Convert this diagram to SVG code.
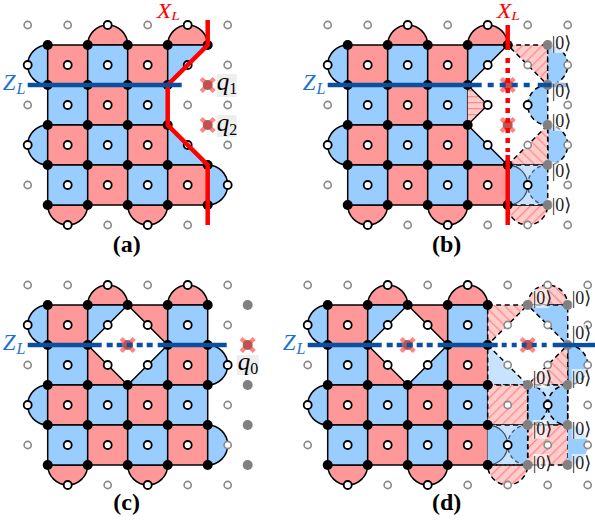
<svg xmlns="http://www.w3.org/2000/svg" width="595" height="521" viewBox="0 0 595 521">
<style>
.r{fill:#ff9999;stroke:#000;stroke-width:1.5}
.b{fill:#99ccff;stroke:#000;stroke-width:1.5}
.lb{fill:#c8e3ff;stroke:none}
.bd{fill:#99ccff;stroke:#000;stroke-width:1.5;stroke-dasharray:5 3.5}
.bn{fill:#99ccff;stroke:none}
.hs{fill:url(#hs);stroke:#000;stroke-width:1.5;stroke-dasharray:5 3.5}
.hb{fill:url(#hb);stroke:#000;stroke-width:1.5;stroke-dasharray:5 3.5}
.hh{fill:url(#hh);stroke:none}
.dl{fill:none;stroke:#000;stroke-width:1.5;stroke-dasharray:5 3.5}
.za{fill:none;stroke:#0b4f9e;stroke-width:4.5}
.xa{fill:none;stroke:#ff0000;stroke-width:4.5}
.t{font-family:"Liberation Serif",serif;font-size:23px;font-style:italic}
.tx{font-family:"Liberation Serif",serif;font-size:20px;font-style:italic}
.q{font-family:"Liberation Serif",serif;font-size:25px;font-style:italic}
.xl{fill:#ff0000}
.zl{fill:#1c72d4}
.s{font-size:16px}
.sx{font-size:13px}
.ket{font-family:"Liberation Serif","DejaVu Serif",serif;font-size:18px;fill:#222}
.kb{fill:#fff;opacity:.6}
.cap{font-family:"Liberation Serif",serif;font-size:24px;font-weight:bold;text-anchor:middle}
.qb{fill:#eeeeee}
</style>
<defs>
<pattern id="hs" width="7" height="7" patternUnits="userSpaceOnUse" patternTransform="rotate(45)"><rect width="7" height="7" fill="#ffcccc"/><rect width="1.3" height="7" fill="#ff8a8a"/></pattern>
<pattern id="hb" width="7" height="7" patternUnits="userSpaceOnUse" patternTransform="rotate(-45)"><rect width="7" height="7" fill="#ffcccc"/><rect width="1.3" height="7" fill="#ff8a8a"/></pattern>
<pattern id="hh" width="6" height="6" patternUnits="userSpaceOnUse"><rect width="6" height="6" fill="#ffcccc"/><rect width="6" height="1.3" fill="#ff8a8a"/></pattern>
<circle id="o" r="4" fill="#fff" stroke="#000" stroke-width="1.8"/>
<circle id="g" r="3.6" fill="#fff" stroke="#888" stroke-width="1.6"/>
<circle id="k" r="5" fill="#000"/>
<circle id="d" r="5" fill="#808080"/>
<g id="x"><circle r="5" fill="#777"/><path d="M-6.5-6.5L6.5 6.5M-6.5 6.5L6.5-6.5" stroke="#ff3333" stroke-opacity=".6" stroke-width="4.5" fill="none"/></g>
<g id="ket"><rect class="kb" x="0" y="-9" width="16" height="19"/><text class="ket" x="0" y="5.500">|0⟩</text></g>
<g id="baseAB">
<path class="r" d="M88 45A20 20 0 0 1 128 45Z"/><path class="r" d="M168 45A20 20 0 0 1 208 45Z"/>
<path class="b" d="M48 45A20 20 0 0 0 48 85Z"/><path class="b" d="M48 125A20 20 0 0 0 48 165Z"/>
<path class="r" d="M48 205A20 20 0 0 0 88 205Z"/><path class="r" d="M128 205A20 20 0 0 0 168 205Z"/>
<rect class="r" x="48" y="45" width="40" height="40"/><rect class="b" x="88" y="45" width="40" height="40"/><rect class="r" x="128" y="45" width="40" height="40"/>
<path class="b" d="M168 45H208L168 85Z"/>
<rect class="b" x="48" y="85" width="40" height="40"/><rect class="r" x="88" y="85" width="40" height="40"/><rect class="b" x="128" y="85" width="40" height="40"/>
<rect class="r" x="48" y="125" width="40" height="40"/><rect class="b" x="88" y="125" width="40" height="40"/><rect class="r" x="128" y="125" width="40" height="40"/>
<path class="b" d="M168 125V165H208Z"/>
<rect class="b" x="48" y="165" width="40" height="40"/><rect class="r" x="88" y="165" width="40" height="40"/><rect class="b" x="128" y="165" width="40" height="40"/><rect class="r" x="168" y="165" width="40" height="40"/>
</g>
<g id="baseABo">
<use href="#k" x="48" y="45"/><use href="#k" x="88" y="45"/><use href="#k" x="128" y="45"/><use href="#k" x="168" y="45"/><use href="#k" x="208" y="45"/>
<use href="#k" x="48" y="85"/><use href="#k" x="88" y="85"/><use href="#k" x="128" y="85"/><use href="#k" x="168" y="85"/>
<use href="#k" x="48" y="125"/><use href="#k" x="88" y="125"/><use href="#k" x="128" y="125"/><use href="#k" x="168" y="125"/>
<use href="#k" x="48" y="165"/><use href="#k" x="88" y="165"/><use href="#k" x="128" y="165"/><use href="#k" x="168" y="165"/><use href="#k" x="208" y="165"/>
<use href="#k" x="48" y="205"/><use href="#k" x="88" y="205"/><use href="#k" x="128" y="205"/><use href="#k" x="168" y="205"/><use href="#k" x="208" y="205"/>
<use href="#o" x="108" y="25"/><use href="#o" x="188" y="25"/><use href="#o" x="28" y="65"/><use href="#o" x="68" y="65"/><use href="#o" x="108" y="65"/><use href="#o" x="148" y="65"/><use href="#o" x="188" y="65"/>
<use href="#o" x="68" y="105"/><use href="#o" x="108" y="105"/><use href="#o" x="148" y="105"/>
<use href="#o" x="28" y="145"/><use href="#o" x="68" y="145"/><use href="#o" x="108" y="145"/><use href="#o" x="148" y="145"/><use href="#o" x="188" y="145"/>
<use href="#o" x="68" y="185"/><use href="#o" x="108" y="185"/><use href="#o" x="148" y="185"/><use href="#o" x="188" y="185"/>
<use href="#o" x="68" y="225"/><use href="#o" x="148" y="225"/>
<use href="#g" x="28" y="25"/><use href="#g" x="68" y="25"/><use href="#g" x="148" y="25"/><use href="#g" x="228" y="25"/>
<use href="#g" x="28" y="105"/><use href="#g" x="28" y="185"/><use href="#g" x="108" y="225"/><use href="#g" x="188" y="225"/>
</g>
<g id="baseCD">
<path class="r" d="M88 45A20 20 0 0 1 128 45Z"/><path class="r" d="M168 45A20 20 0 0 1 208 45Z"/>
<path class="b" d="M48 45A20 20 0 0 0 48 85Z"/><path class="b" d="M48 125A20 20 0 0 0 48 165Z"/>
<path class="r" d="M48 205A20 20 0 0 0 88 205Z"/><path class="r" d="M128 205A20 20 0 0 0 168 205Z"/>
<rect class="r" x="48" y="45" width="40" height="40"/>
<path class="b" d="M88 45H128L88 85Z"/><path class="r" d="M128 45H168V85Z"/>
<rect class="b" x="168" y="45" width="40" height="40"/>
<rect class="b" x="48" y="85" width="40" height="40"/>
<path class="r" d="M88 85V125H128Z"/><path class="b" d="M168 85V125H128Z"/>
<rect class="r" x="168" y="85" width="40" height="40"/>
<rect class="r" x="48" y="125" width="40" height="40"/><rect class="b" x="88" y="125" width="40" height="40"/><rect class="r" x="128" y="125" width="40" height="40"/><rect class="b" x="168" y="125" width="40" height="40"/>
<rect class="b" x="48" y="165" width="40" height="40"/><rect class="r" x="88" y="165" width="40" height="40"/><rect class="b" x="128" y="165" width="40" height="40"/><rect class="r" x="168" y="165" width="40" height="40"/>
</g>
<g id="baseCDo">
<use href="#k" x="48" y="45"/><use href="#k" x="88" y="45"/><use href="#k" x="128" y="45"/><use href="#k" x="168" y="45"/><use href="#k" x="208" y="45"/>
<use href="#k" x="48" y="85"/><use href="#k" x="88" y="85"/><use href="#k" x="168" y="85"/><use href="#k" x="208" y="85"/>
<use href="#k" x="48" y="125"/><use href="#k" x="88" y="125"/><use href="#k" x="128" y="125"/><use href="#k" x="168" y="125"/><use href="#k" x="208" y="125"/>
<use href="#k" x="48" y="165"/><use href="#k" x="88" y="165"/><use href="#k" x="128" y="165"/><use href="#k" x="168" y="165"/><use href="#k" x="208" y="165"/>
<use href="#k" x="48" y="205"/><use href="#k" x="88" y="205"/><use href="#k" x="128" y="205"/><use href="#k" x="168" y="205"/><use href="#k" x="208" y="205"/>
<use href="#o" x="108" y="25"/><use href="#o" x="188" y="25"/><use href="#o" x="28" y="65"/><use href="#o" x="68" y="65"/><use href="#o" x="108" y="65"/><use href="#o" x="148" y="65"/><use href="#o" x="188" y="65"/>
<use href="#o" x="68" y="105"/><use href="#o" x="108" y="105"/><use href="#o" x="148" y="105"/><use href="#o" x="188" y="105"/>
<use href="#o" x="28" y="145"/><use href="#o" x="68" y="145"/><use href="#o" x="108" y="145"/><use href="#o" x="148" y="145"/><use href="#o" x="188" y="145"/>
<use href="#o" x="68" y="185"/><use href="#o" x="108" y="185"/><use href="#o" x="148" y="185"/><use href="#o" x="188" y="185"/>
<use href="#o" x="68" y="225"/><use href="#o" x="148" y="225"/>
<use href="#g" x="28" y="25"/><use href="#g" x="68" y="25"/><use href="#g" x="148" y="25"/><use href="#g" x="228" y="25"/>
<use href="#g" x="228" y="65"/><use href="#g" x="28" y="105"/><use href="#g" x="228" y="145"/><use href="#g" x="28" y="185"/><use href="#g" x="108" y="225"/><use href="#g" x="188" y="225"/><use href="#g" x="228" y="225"/>
</g>
</defs>

<g id="panel-a" transform="translate(-0.3 0)">
<use href="#baseAB"/>
<path class="b" d="M208 165A20 20 0 0 1 208 205Z"/>
<use href="#baseABo"/>
<use href="#o" x="228" y="185"/>
<use href="#g" x="228" y="65"/><use href="#g" x="188" y="105"/><use href="#g" x="228" y="105"/><use href="#g" x="228" y="145"/>
<use href="#x" x="208" y="85"/><use href="#x" x="208" y="125"/>
<g id="connectors-a">
<path class="xa" d="M208 20V45L168 85V125L208 165V225"/>
<path class="za" d="M28 85H182"/>
</g>
<rect class="qb" x="217" y="74" width="20" height="23"/><rect class="qb" x="217" y="115" width="20" height="22"/>
<text class="q" x="217" y="90">q<tspan class="s" dy="4" font-style="normal">1</tspan></text>
<text class="q" x="217" y="130.500">q<tspan class="s" dy="4" font-style="normal">2</tspan></text>
<text class="tx xl" transform="translate(157 18) scale(1.2 1)">X<tspan class="sx" dy="2">L</tspan></text>
<text class="t zl" x="3" y="90">Z<tspan class="s" dy="4" dx="1">L</tspan></text>
<text class="cap" x="127" y="252">(a)</text>
</g>

<g id="panel-b" transform="translate(299.7 0)">
<use href="#baseAB"/>
<path class="hh" d="M168 85L188 105L168 125Z"/>
<path class="hs" d="M208 45H248V85Z"/>
<path class="bd" d="M248 45A20 20 0 0 1 248 85Z"/>
<path class="bd" d="M248 85A20 20 0 0 0 248 125Z"/>
<path class="bd" d="M248 125A20 20 0 0 1 248 165Z"/>
<path class="hb" d="M208 165L248 125V165Z"/>
<path class="hs" d="M208 205H248A20 20 0 0 1 208 205Z"/>
<rect class="lb" x="208" y="165" width="40" height="40"/>
<path class="bn" d="M208 165A20 20 0 0 1 208 205Z"/><path class="bn" d="M248 165A20 20 0 0 0 248 205Z"/>
<path d="M208 165A20 20 0 0 1 208 205" fill="none" stroke="#456" stroke-width="1.3"/>
<path d="M248 165A20 20 0 0 0 248 205" fill="none" stroke="#456" stroke-width="1.3" stroke-dasharray="4 3"/>
<path class="dl" d="M208 165H248V205H208"/>
<path d="M168 85L188 105L168 125" fill="none" stroke="#000" stroke-width="1.3"/>
<use href="#baseABo"/>
<use href="#o" x="188" y="105"/><use href="#o" x="228" y="105"/><use href="#o" x="228" y="185"/>
<use href="#g" x="228" y="65"/><use href="#g" x="268" y="25"/><use href="#g" x="268" y="65"/><use href="#g" x="268" y="105"/><use href="#g" x="228" y="145"/><use href="#g" x="268" y="145"/><use href="#g" x="268" y="185"/><use href="#g" x="228" y="225"/><use href="#g" x="268" y="225"/>
<use href="#d" x="248" y="45"/><use href="#d" x="248" y="85"/><use href="#d" x="248" y="125"/><use href="#d" x="248" y="165"/><use href="#d" x="248" y="205"/>
<use href="#x" x="208" y="85"/><use href="#x" x="208" y="125"/>
<g id="connectors-b">
<path class="xa" d="M208 25V50"/><path class="xa" stroke-dasharray="5 5" d="M208 58V152"/><path class="xa" d="M208 155V225"/>
<path class="za" d="M28 85H182"/><path class="za" stroke-dasharray="6 6" d="M188 85H236"/><path class="za" d="M238 85H268"/>
</g>
<use href="#ket" x="252" y="43"/><use href="#ket" x="252" y="91"/><use href="#ket" x="252" y="121"/><use href="#ket" x="252" y="171"/><use href="#ket" x="252" y="205"/>
<text class="tx xl" transform="translate(197 18) scale(1.2 1)">X<tspan class="sx" dy="2">L</tspan></text>
<text class="t zl" x="3" y="90">Z<tspan class="s" dy="4" dx="1">L</tspan></text>
<text class="cap" x="147" y="252">(b)</text>
</g>

<g id="panel-c" transform="translate(-0.3 260)">
<use href="#baseCD"/>
<path class="b" d="M208 85A20 20 0 0 1 208 125Z"/><path class="b" d="M208 165A20 20 0 0 1 208 205Z"/>
<use href="#baseCDo"/>
<use href="#o" x="228" y="105"/><use href="#g" x="228" y="185"/>
<use href="#d" x="248" y="45"/><use href="#d" x="248" y="125"/><use href="#d" x="248" y="165"/><use href="#d" x="248" y="205"/>
<use href="#x" x="128" y="85"/><use href="#x" x="248" y="85"/>
<g id="connectors-c">
<path class="za" d="M28 85H102"/><path class="za" stroke-dasharray="6 4" d="M107 85H153"/><path class="za" d="M158 85H227"/>
</g>
<rect class="qb" x="237" y="95" width="22" height="20"/>
<text class="q" x="238" y="110">q<tspan class="s" dy="4" font-style="normal">0</tspan></text>
<text class="t zl" x="3" y="90">Z<tspan class="s" dy="4" dx="1">L</tspan></text>
<text class="cap" x="127" y="250">(c)</text>
</g>

<g id="panel-d" transform="translate(279.7 260)">
<use href="#baseCD"/>
<path class="hb" d="M208 45H248L208 85Z"/>
<path class="hb" d="M248 45A20 20 0 0 1 288 45Z"/>
<path class="bd" d="M248 45H288V85Z"/>
<path class="bd" d="M288 85A20 20 0 0 1 288 125Z"/>
<path class="hb" d="M288 85V125H248Z"/>
<path d="M208 85L248 125H208Z" fill="#c8e3ff" stroke="#000" stroke-width="1.5" stroke-dasharray="5 3.5"/>
<rect class="hs" x="208" y="125" width="40" height="40"/>
<rect class="lb" x="248" y="125" width="40" height="40"/>
<path class="bd" d="M248 125A20 20 0 0 1 248 165Z"/><path class="bd" d="M288 125A20 20 0 0 0 288 165Z"/>
<path class="dl" d="M248 125H288V165H248Z"/>
<rect class="lb" x="208" y="165" width="40" height="40"/>
<path class="bn" d="M208 165A20 20 0 0 1 208 205Z"/><path class="bn" d="M248 165A20 20 0 0 0 248 205Z"/>
<path d="M208 165A20 20 0 0 1 208 205" fill="none" stroke="#456" stroke-width="1.3"/>
<path d="M248 165A20 20 0 0 0 248 205" fill="none" stroke="#456" stroke-width="1.3" stroke-dasharray="4 3"/>
<rect class="hs" x="248" y="165" width="40" height="40"/>
<path class="bn" d="M288 165A20 20 0 0 1 288 205Z"/>
<path class="hs" d="M208 205H248A20 20 0 0 1 208 205Z"/>
<path class="dl" d="M208 165H248V205H208"/>
<use href="#baseCDo"/>
<use href="#o" x="268" y="145"/><use href="#o" x="228" y="185"/>
<use href="#g" x="268" y="25"/><use href="#g" x="308" y="25"/><use href="#g" x="268" y="65"/><use href="#g" x="308" y="65"/><use href="#g" x="228" y="105"/><use href="#g" x="268" y="105"/><use href="#g" x="308" y="105"/><use href="#g" x="308" y="145"/><use href="#g" x="268" y="185"/><use href="#g" x="308" y="185"/><use href="#g" x="268" y="225"/><use href="#g" x="308" y="225"/>
<use href="#d" x="248" y="45"/><use href="#d" x="288" y="45"/><use href="#d" x="288" y="85"/><use href="#d" x="248" y="125"/><use href="#d" x="288" y="125"/><use href="#d" x="248" y="165"/><use href="#d" x="288" y="165"/><use href="#d" x="248" y="205"/><use href="#d" x="288" y="205"/>
<use href="#x" x="128" y="85"/><use href="#x" x="248" y="85"/>
<g id="connectors-d">
<path class="za" d="M28 85H102"/><path class="za" stroke-dasharray="6 4" d="M107 85H153"/><path class="za" d="M158 85H218"/><path class="za" stroke-dasharray="5 5" d="M222 85H270"/><path class="za" d="M273 85H316"/>
</g>
<use href="#ket" x="253" y="38"/><use href="#ket" x="292" y="38"/><use href="#ket" x="292" y="73"/><use href="#ket" x="253" y="118"/><use href="#ket" x="292" y="118"/><use href="#ket" x="253" y="169"/><use href="#ket" x="292" y="169"/><use href="#ket" x="253" y="203"/><use href="#ket" x="292" y="203"/>
<text class="t zl" x="3" y="90">Z<tspan class="s" dy="4" dx="1">L</tspan></text>
<text class="cap" x="167" y="250">(d)</text>
</g>
</svg>
